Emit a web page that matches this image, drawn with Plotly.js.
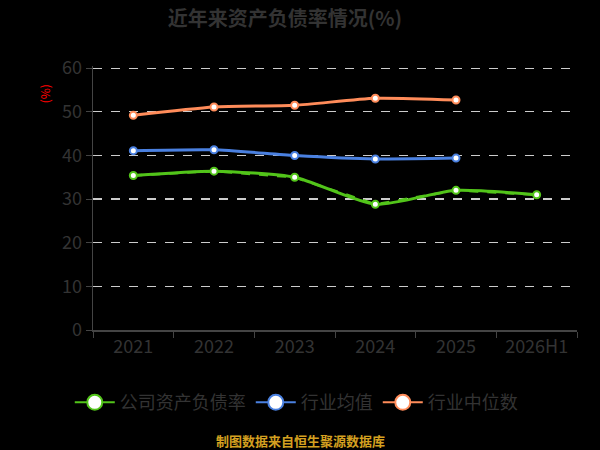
<!DOCTYPE html>
<html>
<head>
<meta charset="utf-8">
<script src="https://cdn.plot.ly/plotly-3.0.1.min.js"></script>
<style>html,body{margin:0;padding:0;background:#000;}#chart{width:600px;height:450px;}</style>
</head>
<body>
<div id="chart"></div>
<script>
var categories = ["2021", "2022", "2023", "2024", "2025", "2026H1"];
var companyRatio = [35.4, 36.4, 35.0, 28.8, 32.0, 31.0];
var industryMean = [41.1, 41.3, 40.0, 39.2, 39.4, null];
var industryMedian = [49.2, 51.1, 51.5, 53.1, 52.7, null];
var seriesNames = ["公司资产负债率", "行业均值", "行业中位数"];
var colors = ["#52c41a", "#4a80e0", "#ff8c5a"];

var font = "'Noto Sans CJK SC', 'Noto Sans', sans-serif";

function lineTrace(y, color, shape, dash, width, showMarkers) {
  return {
    x: categories, y: y, type: "scatter",
    mode: showMarkers ? "lines+markers" : "lines",
    line: {color: color, width: width, shape: shape, dash: dash, smoothing: 0.6},
    marker: {size: 7, color: "#ffffff", line: {color: color, width: 2}},
    showlegend: false, hoverinfo: "skip", connectgaps: false
  };
}
function legendTrace(name, color) {
  return {
    x: [categories[0]], y: [null], type: "scatter", mode: "lines+markers", name: name,
    line: {color: color, width: 2},
    marker: {size: 15, color: "#ffffff", line: {color: color, width: 2}},
    showlegend: true
  };
}

var data = [
  lineTrace(companyRatio, colors[0], "linear", "dash", 2.5, false),
  lineTrace(companyRatio, colors[0], "spline", "solid", 3, true),
  lineTrace(industryMean, colors[1], "spline", "solid", 3, true),
  lineTrace(industryMedian, colors[2], "spline", "solid", 3, true),
  legendTrace(seriesNames[0], colors[0]),
  legendTrace(seriesNames[1], colors[1]),
  legendTrace(seriesNames[2], colors[2])
];

var layout = {
  width: 600, height: 450,
  paper_bgcolor: "#000000", plot_bgcolor: "#000000",
  margin: {l: 93, r: 23, t: 66, b: 120},
  font: {family: font, color: "#333333"},
  title: {text: "<b>近年来资产负债率情况(%)</b>", x: 0.475, xanchor: "center", y: 0.958, yanchor: "middle",
          font: {family: font, size: 20, color: "#333333"}},
  xaxis: {
    type: "category", categoryorder: "array", categoryarray: categories,
    range: [-0.5, 5.5], tickson: "boundaries",
    showline: true, linecolor: "#444444", linewidth: 1.5,
    ticks: "outside", ticklen: 6, tickcolor: "#444444",
    showgrid: false, zeroline: false,
    tickfont: {family: font, size: 18, color: "#333333"}
  },
  yaxis: {
    range: [0, 60.5], dtick: 10, tick0: 0,
    showline: true, linecolor: "#444444", linewidth: 1.5,
    ticks: "outside", ticklen: 6, tickcolor: "#444444",
    showgrid: true, gridcolor: "#cccccc", griddash: "dash", gridwidth: 1.2,
    zeroline: false,
    tickfont: {family: font, size: 18, color: "#333333"}
  },
  legend: {
    orientation: "h", x: 0.42, xanchor: "center", y: -0.275, yanchor: "middle",
    font: {family: font, size: 18, color: "#333333"},
    itemwidth: 40, traceorder: "normal", bgcolor: "rgba(0,0,0,0)"
  },
  annotations: [
    {text: "(%)", xref: "paper", yref: "paper", x: -0.1, y: 0.895, xanchor: "center", yanchor: "middle",
     textangle: -90, showarrow: false, font: {family: font, size: 12, color: "#ff0000"}},
    {text: "<b>制图数据来自恒生聚源数据库</b>", xref: "paper", yref: "paper", x: 0.428, y: -0.42,
     xanchor: "center", yanchor: "middle", showarrow: false,
     font: {family: font, size: 13, color: "#d4a020"}}
  ]
};

Plotly.newPlot("chart", data, layout, {displayModeBar: false, staticPlot: true});
</script>
</body>
</html>
